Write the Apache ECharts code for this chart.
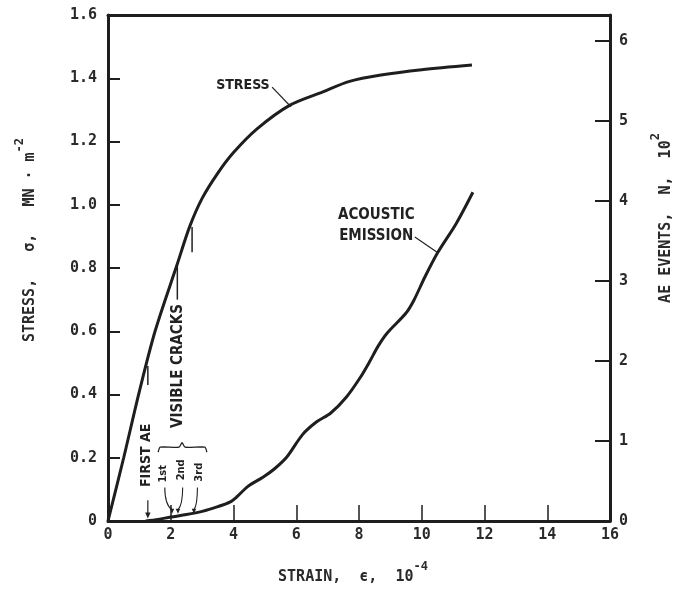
<!DOCTYPE html>
<html>
<head>
<meta charset="utf-8">
<script src="https://cdn.jsdelivr.net/npm/echarts@6/dist/echarts.min.js"></script>
<style>
  html, body { margin: 0; padding: 0; background: #fff; }
  #chart { width: 682px; height: 592px; }
</style>
</head>
<body>
<div id="chart"></div>
<script>
// Stress–strain curve (strain in 10^-4, stress in MN·m^-2)
const stressStrain = [0, 0.5, 1.0, 1.5, 2.2, 2.6, 3.0, 3.5, 4.0, 4.75, 5.8, 6.85, 7.7, 8.7, 10.0, 11.6];
const stressValues = [0, 0.2, 0.41, 0.6, 0.81, 0.93, 1.02, 1.1, 1.165, 1.24, 1.315, 1.357, 1.39, 1.41, 1.427, 1.442];

// Cumulative acoustic emission events (N, x10^2)
const aeStrain = [1.2, 1.6, 2.0, 2.5, 3.0, 3.5, 3.9, 4.1, 4.45, 4.95, 5.3, 5.7, 6.2, 6.65, 7.1, 7.6, 8.05, 8.35, 8.6, 8.9, 9.5, 9.75, 10.1, 10.5, 11.1, 11.63];
const aeValues = [0, 0.02, 0.05, 0.08, 0.12, 0.18, 0.24, 0.3, 0.43, 0.55, 0.65, 0.8, 1.08, 1.24, 1.35, 1.55, 1.8, 2.0, 2.18, 2.35, 2.6, 2.76, 3.05, 3.35, 3.72, 4.11];

// Axis ranges and tick spacing
const strainTicks = { min: 0, max: 16, interval: 2 };
const stressTicks = { min: 0, max: 1.6, interval: 0.2 };
const aeTicks = { min: 0, max: 6.325, interval: 1 };

// Strain values of events marked on the curves
const firstAE = 1.27;
const crackStrains = [2.04, 2.23, 2.74];

const INK = '#1e1e1e';
const MONO = '"DejaVu Sans Mono", "Liberation Mono", monospace';
const NARROW = '"Liberation Sans Narrow", "DejaVu Sans Condensed", "Liberation Sans", sans-serif';

const chart = echarts.init(document.getElementById('chart'), null, { renderer: 'canvas' });

const axisLineStyle = { color: INK, width: 3 };
const labelStyle = { color: '#2a2a2a', fontFamily: MONO, fontSize: 15, fontWeight: 'bold' };
const supStyle = { fontFamily: MONO, fontSize: 12, fontWeight: 'bold', color: '#2a2a2a', verticalAlign: 'top', lineHeight: 24 };
const nameMain = { fontFamily: MONO, fontSize: 15, fontWeight: 'bold', color: '#2a2a2a', verticalAlign: 'bottom', lineHeight: 24 };

chart.setOption({
  animation: false,
  backgroundColor: '#fff',
  grid: { left: 108, right: 72, top: 15, bottom: 71 },
  xAxis: [{
    type: 'value',
    min: strainTicks.min, max: strainTicks.max, interval: strainTicks.interval,
    axisLine: { show: true, onZero: false, lineStyle: axisLineStyle },
    axisTick: { show: true, inside: true, length: 16, lineStyle: { color: INK, width: 1.5 } },
    axisLabel: Object.assign({ margin: 7 }, labelStyle),
    splitLine: { show: false },
    name: '{m|STRAIN,  ϵ,  10}{s|-4}',
    nameLocation: 'middle',
    nameGap: 40,
    nameTextStyle: { padding: [0, 12, 0, 0], rich: { m: nameMain, s: supStyle } }
  }, {
    type: 'value', position: 'top',
    min: strainTicks.min, max: strainTicks.max,
    axisLine: { show: true, onZero: false, lineStyle: axisLineStyle },
    axisTick: { show: false }, axisLabel: { show: false }, splitLine: { show: false }
  }],
  yAxis: [{
    type: 'value', position: 'left',
    min: stressTicks.min, max: stressTicks.max, interval: stressTicks.interval,
    axisLine: { show: true, onZero: false, lineStyle: axisLineStyle },
    axisTick: { show: true, inside: true, length: 12, lineStyle: { color: INK, width: 2 } },
    axisLabel: Object.assign({ margin: 11, formatter: v => v === 0 ? '0' : v.toFixed(1) }, labelStyle),
    splitLine: { show: false },
    name: '{m|STRESS,   σ,   MN · m}{s|-2}',
    nameLocation: 'middle',
    nameRotate: 90,
    nameGap: 70,
    nameTextStyle: { padding: [0, 0, 0, 56], rich: { m: nameMain, s: supStyle } }
  }, {
    type: 'value', position: 'right',
    min: aeTicks.min, max: aeTicks.max, interval: aeTicks.interval,
    axisLine: { show: true, onZero: false, lineStyle: axisLineStyle },
    axisTick: { show: true, inside: true, length: 15, lineStyle: { color: INK, width: 2 } },
    axisLabel: Object.assign({ margin: 9, formatter: v => Number.isInteger(v) ? String(v) : '' }, labelStyle),
    splitLine: { show: false },
    name: '{m|AE EVENTS,  N,  10}{s|2}',
    nameLocation: 'middle',
    nameRotate: 90,
    nameGap: 40,
    nameTextStyle: { padding: [0, 0, 0, 100], rich: { m: nameMain, s: supStyle } }
  }],
  series: [{
    name: 'STRESS',
    type: 'line',
    xAxisIndex: 0, yAxisIndex: 0,
    data: stressStrain.map((x, i) => [x, stressValues[i]]),
    smooth: 0.3,
    showSymbol: false,
    lineStyle: { color: INK, width: 3 }
  }, {
    name: 'ACOUSTIC EMISSION',
    type: 'line',
    xAxisIndex: 0, yAxisIndex: 1,
    data: aeStrain.map((x, i) => [x, aeValues[i]]),
    smooth: 0.3,
    showSymbol: false,
    lineStyle: { color: INK, width: 3 }
  }]
});

// Annotations placed in data coordinates and converted to pixels
const onStress = (x, y) => chart.convertToPixel({ seriesIndex: 0 }, [x, y]);
const onAE = (x, y) => chart.convertToPixel({ seriesIndex: 1 }, [x, y]);

const annoFont = { fontFamily: NARROW, fontWeight: 'bold', fill: '#222' };
function label(text, p, size, rot, align) {
  return {
    type: 'text', x: p[0], y: p[1], rotation: rot || 0,
    style: Object.assign({ text, fontSize: size, align: align || 'center', verticalAlign: 'middle' }, annoFont),
    z: 10
  };
}
function seg(a, b, w) {
  return { type: 'line', shape: { x1: a[0], y1: a[1], x2: b[0], y2: b[1] }, style: { stroke: '#222', lineWidth: w || 1.2 }, z: 10 };
}
function arrowHead(tip, size) {
  return { type: 'polygon', shape: { points: [[tip[0], tip[1]], [tip[0] - size * 0.45, tip[1] - size], [tip[0] + size * 0.45, tip[1] - size]] }, style: { fill: '#222' }, z: 10 };
}

const g = [];
// STRESS label with leader
g.push(label('STRESS', onStress(4.3, 1.379), 14));
g.push(seg(onStress(5.23, 1.372), onStress(5.83, 1.31)));
// ACOUSTIC EMISSION label with leader
g.push(label('ACOUSTIC', onAE(8.55, 3.82), 15));
g.push(label('EMISSION', onAE(8.55, 3.56), 15));
g.push(seg(onAE(9.78, 3.55), onAE(10.49, 3.36)));

// Event ticks on the stress curve
g.push(seg(onStress(firstAE, 0.49), onStress(firstAE, 0.43), 1.5));
g.push(seg(onStress(2.21, 0.805), onStress(2.21, 0.70), 1.5));
g.push(seg(onStress(2.68, 0.93), onStress(2.68, 0.85), 1.5));

// FIRST AE
g.push(label('FIRST AE', onAE(1.22, 0.82), 14, Math.PI / 2));
const fa0 = onAE(firstAE, 0.26), fa1 = onAE(firstAE, 0.03);
g.push(seg(fa0, [fa1[0], fa1[1] - 4], 1.2));
g.push(arrowHead(fa1, 6));

// VISIBLE CRACKS
g.push(label('VISIBLE CRACKS', onStress(2.24, 0.49), 15, Math.PI / 2));

// Brace over the crack ordinals
const bL = onAE(1.6, 0.86), bM = onAE(2.36, 0.98), bR = onAE(3.15, 0.86);
g.push({
  type: 'polyline', z: 10,
  shape: { points: [[bL[0], bL[1]], [bL[0] + 2, bL[1] - 5], [bM[0] - 3, bL[1] - 5], [bM[0], bM[1]], [bM[0] + 3, bL[1] - 5], [bR[0] - 2, bL[1] - 5], [bR[0], bR[1]]], smooth: 0.2 },
  style: { stroke: '#222', lineWidth: 1.3, fill: null }
});

// 1st / 2nd / 3rd crack labels with arrows down to the AE curve
const ords = [['1st', 1.76, 0.59], ['2nd', 2.33, 0.64], ['3rd', 2.9, 0.61]];
ords.forEach((o, i) => {
  g.push(label(o[0], onAE(o[1], o[2]), 11, Math.PI / 2));
  const a = onAE(o[1] + (i === 2 ? -0.05 : 0.05), 0.42);
  const tip = onAE(crackStrains[i], 0.09);
  g.push({
    type: 'bezierCurve', z: 10,
    shape: { x1: a[0], y1: a[1], x2: tip[0], y2: tip[1] - 4, cpx1: a[0], cpy1: (a[1] + tip[1]) / 2 + 4 },
    style: { stroke: '#222', lineWidth: 1.1, fill: null }
  });
  g.push(arrowHead(tip, 5));
});

chart.setOption({ graphic: g });
</script>
</body>
</html>
